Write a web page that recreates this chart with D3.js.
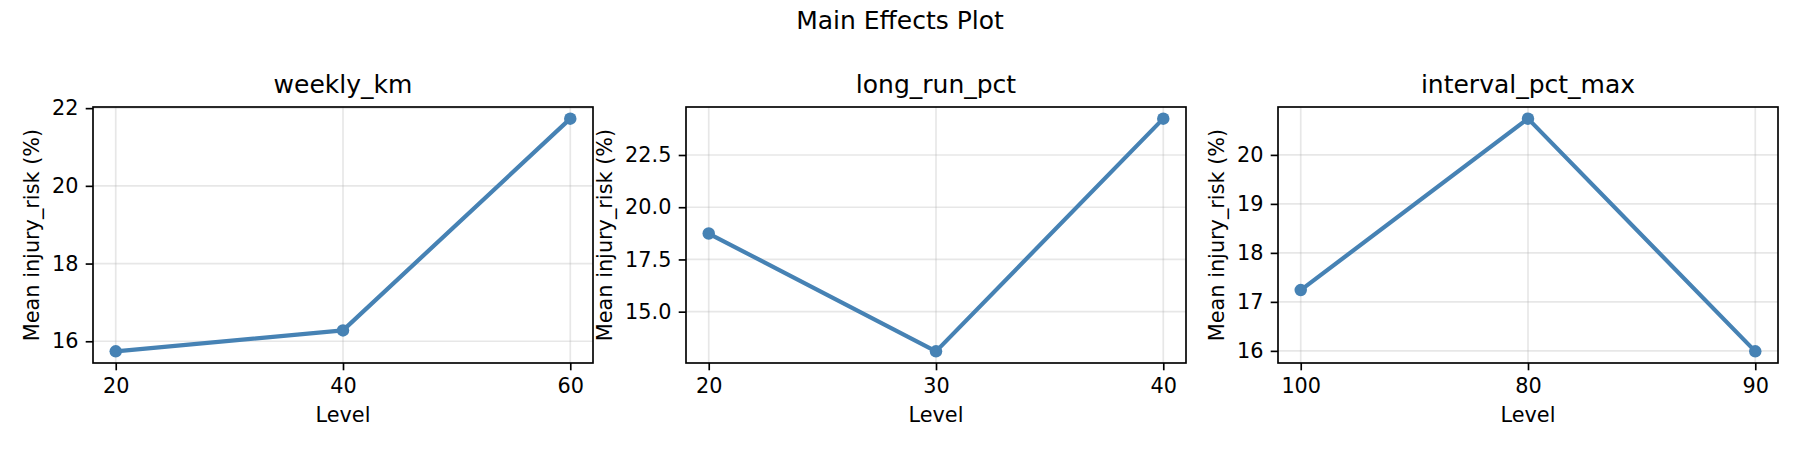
<!DOCTYPE html>
<html>
<head>
<meta charset="utf-8">
<script src="https://cdn.jsdelivr.net/npm/d3@7"></script>
<style>
  body { margin: 0; background: #fff; }
  text { font-family: "DejaVu Sans", sans-serif; fill: #000; }
</style>
</head>
<body>
<div id="chart"></div>
<script>
// figure size
var width = 1800;
var height = 450;

// data
var factorNames = ["weekly_km", "long_run_pct", "interval_pct_max"];
var weeklyLevels = ["20", "40", "60"];
var weeklyMeans = [15.74, 16.28, 21.73];
var longRunLevels = ["20", "30", "40"];
var longRunMeans = [18.74, 13.10, 24.24];
var intervalLevels = ["100", "80", "90"];
var intervalMeans = [17.24, 20.74, 15.99];

var weeklyTicks = [16, 18, 20, 22];
var longRunTicks = [15.0, 17.5, 20.0, 22.5];
var intervalTicks = [16, 17, 18, 19, 20];

var panels = [
  { name: factorNames[0], levels: weeklyLevels, means: weeklyMeans, ticks: weeklyTicks, fmt: d3.format("d") },
  { name: factorNames[1], levels: longRunLevels, means: longRunMeans, ticks: longRunTicks, fmt: d3.format(".1f") },
  { name: factorNames[2], levels: intervalLevels, means: intervalMeans, ticks: intervalTicks, fmt: d3.format("d") }
];

// axes boxes (left edges), all same size
var axLefts = [93, 686, 1278];
var axW = 500;
var axTop = 107;
var axBottom = 363;

var lineColor = "#4682b4";
var tickLen = 7.3;
var tickPad = 7.3;

var svg = d3.select("#chart")
  .append("svg")
    .attr("width", width)
    .attr("height", height);

svg.append("rect")
  .attr("width", width)
  .attr("height", height)
  .style("fill", "#fff");

// main title
svg.append("text")
  .attr("x", width / 2)
  .attr("y", 29)
  .attr("text-anchor", "middle")
  .style("font-size", "25px")
  .text("Main Effects Plot");

panels.forEach(function(p, i) {
  var left = axLefts[i];
  var g = svg.append("g");

  // categorical x like matplotlib: positions 0..n-1 with 5% margins
  var n = p.levels.length;
  var xPos = d3.scaleLinear()
    .domain([-0.05 * (n - 1), (n - 1) * 1.05])
    .range([left, left + axW]);

  var ext = d3.extent(p.means);
  var pad = (ext[1] - ext[0]) * 0.05;
  var y = d3.scaleLinear()
    .domain([ext[0] - pad, ext[1] + pad])
    .range([axBottom, axTop]);

  // grid
  g.selectAll(".gy")
    .data(p.ticks)
    .enter()
    .append("line")
      .attr("x1", left).attr("x2", left + axW)
      .attr("y1", function(d) { return y(d); })
      .attr("y2", function(d) { return y(d); })
      .style("stroke", "#b0b0b0")
      .style("stroke-opacity", 0.3)
      .style("stroke-width", 1.67);

  g.selectAll(".gx")
    .data(p.levels)
    .enter()
    .append("line")
      .attr("x1", function(d, j) { return xPos(j); })
      .attr("x2", function(d, j) { return xPos(j); })
      .attr("y1", axTop).attr("y2", axBottom)
      .style("stroke", "#b0b0b0")
      .style("stroke-opacity", 0.3)
      .style("stroke-width", 1.67);

  // line + markers
  var line = d3.line()
    .x(function(d, j) { return xPos(j); })
    .y(function(d) { return y(d); });

  g.append("path")
    .datum(p.means)
    .attr("d", line)
    .style("fill", "none")
    .style("stroke", lineColor)
    .style("stroke-width", 4.2)
    .style("stroke-linejoin", "round");

  g.selectAll("circle")
    .data(p.means)
    .enter()
    .append("circle")
      .attr("cx", function(d, j) { return xPos(j); })
      .attr("cy", function(d) { return y(d); })
      .attr("r", 6.25)
      .style("fill", lineColor);

  // axes (d3 axis, styled like matplotlib)
  var xAxis = d3.axisBottom(xPos)
    .tickValues(d3.range(n))
    .tickFormat(function(j) { return p.levels[j]; })
    .tickSizeInner(tickLen)
    .tickSizeOuter(0)
    .tickPadding(tickPad);

  var yAxis = d3.axisLeft(y)
    .tickValues(p.ticks)
    .tickFormat(p.fmt)
    .tickSizeInner(tickLen)
    .tickSizeOuter(0)
    .tickPadding(tickPad);

  var gx = g.append("g")
    .attr("transform", "translate(0," + axBottom + ")")
    .call(xAxis);
  var gyAx = g.append("g")
    .attr("transform", "translate(" + left + ",0)")
    .call(yAxis);

  [gx, gyAx].forEach(function(a) {
    a.select(".domain").remove();
    a.selectAll(".tick line").style("stroke", "#000").style("stroke-width", 1.67);
    a.selectAll(".tick text")
      .style("font-size", "20.8px")
      .style("font-family", "DejaVu Sans, sans-serif")
      .style("fill", "#000");
  });
  gx.selectAll(".tick text").attr("dy", "0.76em");

  // frame
  g.append("rect")
    .attr("x", left).attr("y", axTop)
    .attr("width", axW).attr("height", axBottom - axTop)
    .style("fill", "none")
    .style("stroke", "#000")
    .style("stroke-width", 1.67);

  // subplot title
  g.append("text")
    .attr("x", left + axW / 2)
    .attr("y", 93)
    .attr("text-anchor", "middle")
    .style("font-size", "25px")
    .text(p.name);

  // x label
  g.append("text")
    .attr("x", left + axW / 2)
    .attr("y", 421.5)
    .attr("text-anchor", "middle")
    .style("font-size", "20.8px")
    .text("Level");

  // y label placed left of the widest tick label
  var maxW = 0;
  gyAx.selectAll(".tick text").each(function() {
    maxW = Math.max(maxW, this.getComputedTextLength());
  });
  var labX = left - tickLen - tickPad - maxW - 8.3 - 5;
  g.append("text")
    .attr("transform", "translate(" + labX + "," + ((axTop + axBottom) / 2) + ") rotate(-90)")
    .attr("text-anchor", "middle")
    .style("font-size", "20.8px")
    .text("Mean injury_risk (%)");
});
</script>
</body>
</html>
